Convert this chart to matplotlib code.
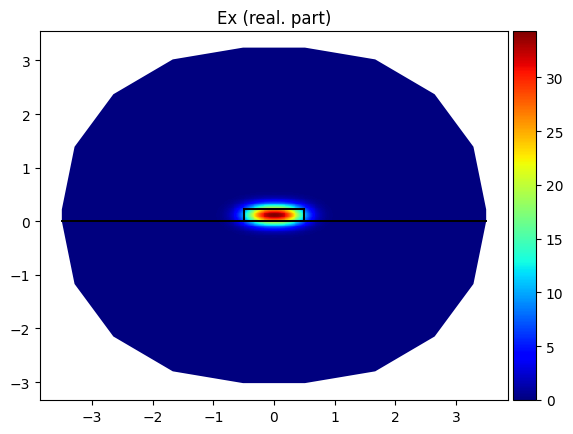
import numpy as np
import matplotlib
matplotlib.use('Agg')
import matplotlib.pyplot as plt
from matplotlib.patches import Polygon, Rectangle

# ── domain outline ────────────────────────────────────────────────────────────
# lower half of the outer boundary, right to left, starting on y = 0
lower_x = [3.50, 3.29, 2.65, 1.67, 0.51, -0.51, -1.67, -2.65, -3.29, -3.50]
lower_y = [0.00, -1.17, -2.15, -2.80, -3.02, -3.02, -2.80, -2.15, -1.17, 0.00]
# upper half, left to right, starting on y = core height
upper_x = [-3.50, -3.29, -2.65, -1.67, -0.51, 0.51, 1.67, 2.65, 3.29, 3.50]
upper_y = [0.22, 1.39, 2.37, 3.02, 3.24, 3.24, 3.02, 2.37, 1.39, 0.22]

# waveguide core and substrate line
core_x = [-0.5, 0.5]
core_y = [0.0, 0.22]
line_x = [-3.5, 3.5]

# mode field parameters
peak = 34.3
centre = (0.0, 0.10)
width_x, power_x = 0.47, 2.4
sigma_y = 0.13
vmin, vmax = 0.0, 34.3
cbar_ticks = [0, 5, 10, 15, 20, 25, 30]

# ── field on a fine grid ──────────────────────────────────────────────────────
gx = np.linspace(-3.6, 3.6, 480)
gy = np.linspace(-3.1, 3.3, 420)
X, Y = np.meshgrid(gx, gy)
E = peak * np.exp(-(np.abs(X - centre[0]) / width_x) ** power_x) \
         * np.exp(-(Y - centre[1]) ** 2 / (2 * sigma_y ** 2))

# ── figure ────────────────────────────────────────────────────────────────────
fig = plt.figure(figsize=(5.73, 4.35), dpi=100)
W, H = 573, 435
ax = fig.add_axes([40 / W, (H - 401) / H, 468 / W, 369 / H])
cax = fig.add_axes([513 / W, (H - 401) / H, 23 / W, 369 / H])

verts = list(zip(lower_x, lower_y)) + list(zip(upper_x, upper_y))
outline = Polygon(verts, closed=True, facecolor='none', edgecolor='none')
ax.add_patch(outline)

im = ax.imshow(E, extent=[gx[0], gx[-1], gy[0], gy[-1]], origin='lower',
               cmap='jet', vmin=vmin, vmax=vmax, interpolation='nearest',
               aspect='auto')
im.set_clip_path(outline)

ax.plot(line_x, [0, 0], color='black', lw=1.4)
ax.add_patch(Rectangle((core_x[0], core_y[0]), core_x[1] - core_x[0],
                       core_y[1] - core_y[0], fill=False, edgecolor='black', lw=1.5))

ax.set_xlim(-3.86, 3.86)
ax.set_ylim(-3.335, 3.55)
ax.set_xticks([-3, -2, -1, 0, 1, 2, 3])
ax.set_yticks([-3, -2, -1, 0, 1, 2, 3])
ax.set_title('Ex (real. part)')

cb = fig.colorbar(im, cax=cax)
cb.set_ticks(cbar_ticks)

fig.savefig('out.png', dpi=100)
